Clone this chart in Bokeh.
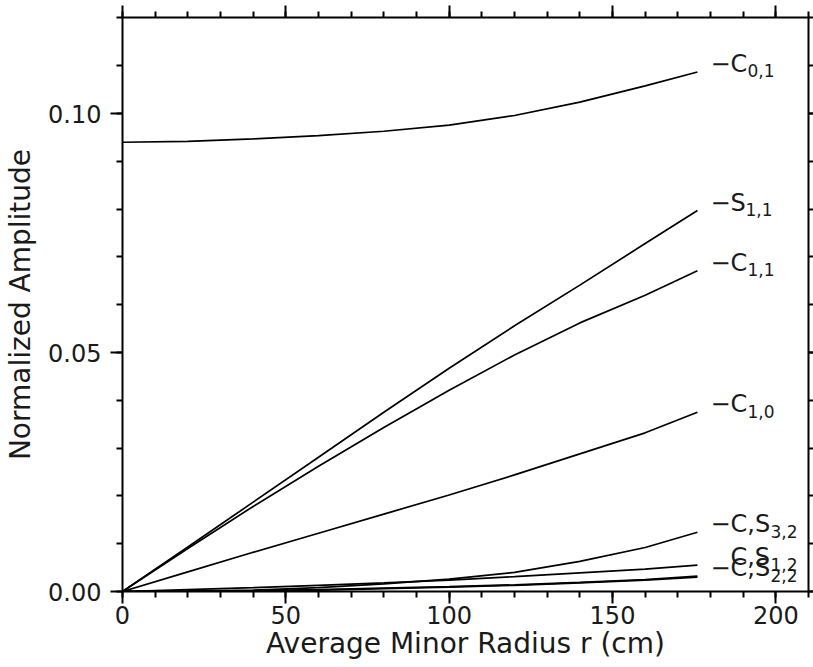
from bokeh.plotting import figure
from bokeh.models import Range1d, LinearAxis, SingleIntervalTicker, NumeralTickFormatter, ColumnDataSource
from bokeh.core.properties import value
from bokeh.embed import file_html
from bokeh.resources import INLINE

# ---- data ----
r = [0, 20, 40, 60, 80, 100, 120, 140, 160, 176]
C01 = [0.0940, 0.0942, 0.0947, 0.0954, 0.0963, 0.0976, 0.0996, 0.1024, 0.1058, 0.1087]
S11 = [0.0, 0.0093, 0.0187, 0.0281, 0.0375, 0.0467, 0.0556, 0.0641, 0.0728, 0.0797]
C11 = [0.0, 0.0090, 0.0178, 0.0262, 0.0343, 0.0421, 0.0495, 0.0562, 0.0620, 0.0671]
C10 = [0.0, 0.0041, 0.0082, 0.0122, 0.0162, 0.0202, 0.0244, 0.0288, 0.0332, 0.0375]
CS32 = [0.0, 0.0001, 0.0003, 0.0008, 0.0016, 0.0026, 0.0040, 0.0063, 0.0092, 0.0124]
CS12 = [0.0, 0.0004, 0.0008, 0.0013, 0.0018, 0.0024, 0.0031, 0.0039, 0.0047, 0.0055]
C22 = [0.0, 0.00005, 0.0002, 0.0004, 0.0007, 0.0010, 0.0014, 0.0019, 0.0025, 0.0032]
S22 = [0.0, 0.00005, 0.00015, 0.0003, 0.0006, 0.0009, 0.0013, 0.0018, 0.0024, 0.0030]

series = [C01, S11, C11, C10, CS32, CS12, C22, S22]

label_main = ["\u2212C", "\u2212S", "\u2212C", "\u2212C", "\u2212C,S", "C,S", "\u2212C,S"]
label_sub = ["0,1", "1,1", "1,1", "1,0", "3,2", "1,2", "2,2"]
label_series = [C01, S11, C11, C10, CS32, CS12, C22]

x_ticks_interval = 50
y_ticks_interval = 0.05

FONT = "DejaVu Sans"
FS_TICK = 24
FS_AXIS = 28
FS_CURVE = 24
FS_SUB = 17
TXT = "#1a1a1a"

p = figure(width=813, height=667, x_range=Range1d(0, 210), y_range=Range1d(0, 0.1201),
           output_backend="svg", toolbar_location=None,
           min_border_left=122, min_border_right=5, min_border_top=17, min_border_bottom=76)
p.outline_line_color = None
p.xgrid.visible = False
p.ygrid.visible = False
p.background_fill_color = "white"
p.border_fill_color = "white"

def style_axis(ax, show_labels, tick_out, minor_out):
    ax.axis_line_width = 2
    ax.axis_line_color = "black"
    ax.major_tick_line_width = 2
    ax.minor_tick_line_width = 2
    ax.major_tick_line_color = "black"
    ax.minor_tick_line_color = "black"
    ax.major_tick_in = 0
    ax.minor_tick_in = 0
    ax.major_tick_out = tick_out
    ax.minor_tick_out = minor_out
    if show_labels:
        ax.major_label_text_font = FONT
        ax.major_label_text_font_size = f"{FS_TICK}px"
        ax.major_label_text_color = TXT
    else:
        ax.major_label_text_font_size = "1px"
        ax.major_label_text_color = None
        ax.major_label_standoff = 0

p.xaxis.ticker = SingleIntervalTicker(interval=x_ticks_interval, num_minor_ticks=5)
p.yaxis.ticker = SingleIntervalTicker(interval=y_ticks_interval, num_minor_ticks=5)
p.xaxis.formatter = NumeralTickFormatter(format="0")
p.yaxis.formatter = NumeralTickFormatter(format="0.00")
style_axis(p.xaxis[0], True, 12, 6)
style_axis(p.yaxis[0], True, 12, 6)
p.xaxis.major_label_standoff = 2
p.yaxis.major_label_standoff = 9
p.xaxis.axis_label = "Average Minor Radius r (cm)"
p.yaxis.axis_label = "Normalized Amplitude"
for ax in (p.xaxis[0], p.yaxis[0]):
    ax.axis_label_text_font = FONT
    ax.axis_label_text_font_size = f"{FS_AXIS}px"
    ax.axis_label_text_font_style = "normal"
    ax.axis_label_text_color = TXT
p.xaxis.axis_label_standoff = 0
p.yaxis.axis_label_standoff = 8

top = LinearAxis(ticker=SingleIntervalTicker(interval=x_ticks_interval, num_minor_ticks=5))
style_axis(top, False, 12, 6)
p.add_layout(top, "above")
right = LinearAxis(ticker=SingleIntervalTicker(interval=y_ticks_interval, num_minor_ticks=5))
style_axis(right, False, 5, 5)
p.add_layout(right, "right")

for s in series:
    p.line(r, s, line_color="black", line_width=1.7)

# labels at curve ends: main symbol plus a smaller subscript
dash_w = 20
main_w = {"\u2212C": 37, "\u2212S": 35, "\u2212C,S": 60, "C,S": 40}
lx, ly, lm, lxo, ss, sxo = [], [], [], [], [], []
for m, sub, s in zip(label_main, label_sub, label_series):
    xo = 13 if m.startswith("\u2212") else 13 + dash_w
    lx.append(r[-1]); ly.append(s[-1]); lm.append(m); lxo.append(xo)
    ss.append(sub); sxo.append(xo + main_w[m])

src_m = ColumnDataSource(dict(x=lx, y=ly, text=lm, xo=lxo))
src_s = ColumnDataSource(dict(x=lx, y=ly, text=ss, xo=sxo))
p.text(x="x", y="y", text="text", source=src_m, x_offset="xo", y_offset=-8,
       text_font=value(FONT), text_font_size=f"{FS_CURVE}px", text_baseline="middle",
       text_color=TXT)
p.text(x="x", y="y", text="text", source=src_s, x_offset="xo", y_offset=-1,
       text_font=value(FONT), text_font_size=f"{FS_SUB}px", text_baseline="middle",
       text_color=TXT)

open("out.html", "w").write(file_html(p, INLINE))
